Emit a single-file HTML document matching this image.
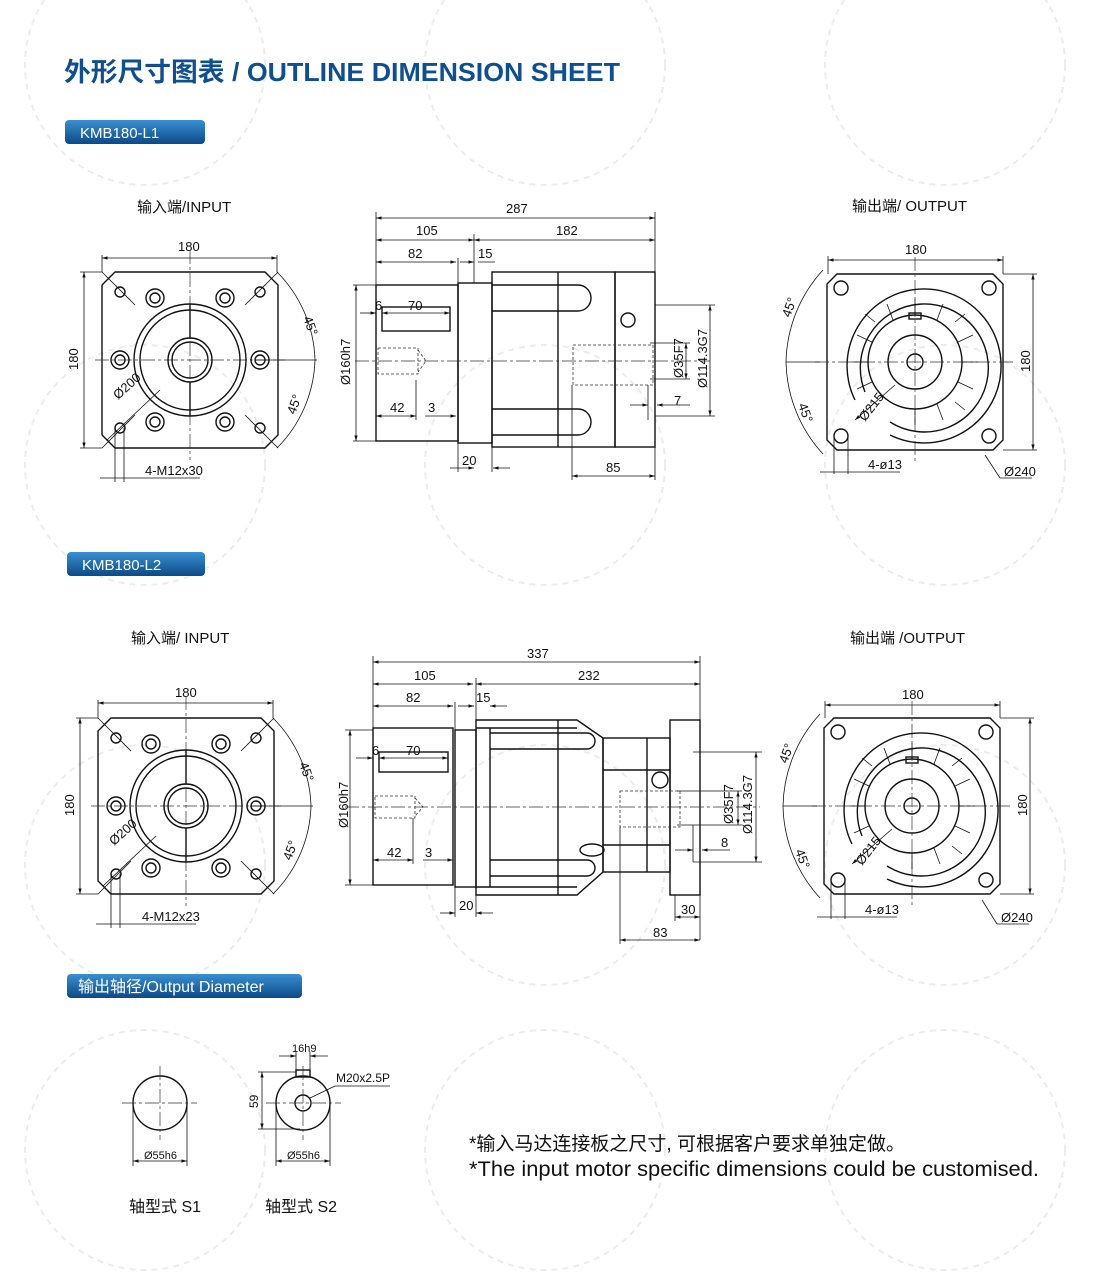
<!DOCTYPE html>
<html><head><meta charset="utf-8"><style>
html,body{margin:0;padding:0;background:#fff;width:1100px;height:1276px;overflow:hidden;}
svg{display:block}
.t{font-family:"Liberation Sans Narrow","Liberation Sans","Noto Sans CJK SC",sans-serif;font-size:13px;fill:#111}
.h{font-family:"Liberation Sans","Noto Sans CJK SC",sans-serif;font-size:15px;fill:#111}
.l{stroke:#111;stroke-width:1.4;fill:none}
.th{stroke:#111;stroke-width:0.8;fill:none}
.c{stroke:#333;stroke-width:0.7;fill:none;stroke-dasharray:14 3 3 3}
.d{stroke:#333;stroke-width:0.8;fill:none;stroke-dasharray:3 2}
.wm{stroke:#ececec;stroke-width:2;fill:none;stroke-dasharray:6 5}
</style></head><body>
<svg width="1100" height="1276" viewBox="0 0 1100 1276" xmlns="http://www.w3.org/2000/svg">
<defs>
<marker id="a" viewBox="0 0 10 10" refX="10" refY="5" markerWidth="7" markerHeight="7" orient="auto-start-reverse"><path d="M0,2 L10,5 L0,8z" fill="#111"/></marker>
<linearGradient id="g" x1="0" y1="0" x2="0" y2="1"><stop offset="0" stop-color="#3a8fd0"/><stop offset="1" stop-color="#0b4a88"/></linearGradient>
<g id="inp">
 <path class="l" d="M-75,-88 H75 L88,-75 V75 L75,88 H-75 L-88,75 V-75 Z"/>
 <line class="c" x1="-95" y1="0" x2="95" y2="0"/><line class="c" x1="0" y1="-110" x2="0" y2="100"/>
 <circle class="l" r="56"/><circle class="l" r="50"/><circle class="l" r="22"/><circle class="l" r="18"/>
 <circle class="l" cx="-70" cy="0" r="9"/><circle class="l" cx="-70" cy="0" r="5"/>
 <circle class="l" cx="70" cy="0" r="9"/><circle class="l" cx="70" cy="0" r="5"/>
 <circle class="l" cx="-35" cy="-62" r="9"/><circle class="l" cx="-35" cy="-62" r="5"/>
 <circle class="l" cx="35" cy="-62" r="9"/><circle class="l" cx="35" cy="-62" r="5"/>
 <circle class="l" cx="-35" cy="62" r="9"/><circle class="l" cx="-35" cy="62" r="5"/>
 <circle class="l" cx="35" cy="62" r="9"/><circle class="l" cx="35" cy="62" r="5"/>
 <circle class="l" cx="-70" cy="-68" r="5"/><circle class="l" cx="70" cy="-68" r="5"/><circle class="l" cx="70" cy="68" r="5"/><circle class="l" cx="-70" cy="68" r="5"/>
 <line class="th" x1="-88" y1="-88" x2="-55" y2="-55"/><line class="th" x1="88" y1="-88" x2="55" y2="-55"/><line class="th" x1="88" y1="88" x2="55" y2="55"/><line class="th" x1="-88" y1="88" x2="-55" y2="55"/>
 <line class="l" x1="0" y1="-56" x2="0" y2="-22"/><line class="l" x1="0" y1="22" x2="0" y2="56"/>
</g>
<g id="out">
 <path class="l" d="M-78,-88 H78 L88,-78 V78 L78,88 H-78 L-88,78 V-78 Z"/>
 <line class="c" x1="-100" y1="0" x2="100" y2="0"/><line class="c" x1="0" y1="-105" x2="0" y2="100"/>
 <path class="l" d="M-60,38 A77,77 0 1 1 -25,73"/>
 <path class="l" d="M-50,30 A64,64 0 1 1 -25,60"/>
 <circle class="l" r="47"/><circle class="l" r="27"/><circle class="l" r="8"/>
 <rect class="l" x="-6" y="-49" width="12" height="6"/>
 <circle class="l" cx="-74" cy="-74" r="7"/><circle class="l" cx="74" cy="-74" r="7"/><circle class="l" cx="74" cy="74" r="7"/><circle class="l" cx="-74" cy="74" r="7"/>
 <g class="th">
 <path d="M-40,-40 L-50,-48 M40,-40 L50,-48 M40,40 L50,48 M-47,0 H-63 M47,0 H63 M0,-47 V-63 M-40,40 L-48,48 M0,47 V63 M-22,-42 L-28,-58 M22,-42 L28,-58 M22,42 L28,58 M-43,-20 L-58,-27 M43,-20 L58,-27 M43,20 L58,27 M-43,20 L-58,27"/>
 </g>
</g>
</defs>

<g class="wm">
<circle cx="145" cy="65" r="120"/><circle cx="545" cy="65" r="120"/><circle cx="945" cy="65" r="120"/>
<circle cx="145" cy="465" r="120"/><circle cx="545" cy="465" r="120"/><circle cx="945" cy="465" r="120"/>
<circle cx="145" cy="865" r="120"/><circle cx="545" cy="865" r="120"/><circle cx="945" cy="865" r="120"/>
<circle cx="145" cy="1150" r="120"/><circle cx="545" cy="1150" r="120"/><circle cx="945" cy="1150" r="120"/>
</g>

<text x="64" y="81" textLength="556" lengthAdjust="spacingAndGlyphs" style="font-family:'Liberation Sans','Noto Sans CJK SC',sans-serif;font-size:26px;font-weight:bold;fill:#0e4f8f">外形尺寸图表 / OUTLINE DIMENSION SHEET</text>

<rect x="65" y="120" width="140" height="24" rx="4" fill="url(#g)"/>
<text x="80" y="138" style="font-family:'Liberation Sans',sans-serif;font-size:15px;fill:#fff">KMB180-L1</text>
<rect x="67" y="552" width="138" height="24" rx="4" fill="url(#g)"/>
<text x="82" y="570" style="font-family:'Liberation Sans',sans-serif;font-size:15px;fill:#fff">KMB180-L2</text>
<rect x="67" y="974" width="235" height="24" rx="4" fill="url(#g)"/>
<text x="78" y="992" style="font-family:'Liberation Sans','Noto Sans CJK SC',sans-serif;font-size:16px;fill:#fff">输出轴径/Output Diameter</text>

<text class="h" x="137" y="212">输入端/INPUT</text>
<text class="h" x="852" y="211">输出端/ OUTPUT</text>
<use href="#inp" x="190" y="360"/>
<line class="th" x1="102" y1="258" x2="277" y2="258" marker-start="url(#a)" marker-end="url(#a)"/><text class="t" x="178" y="251">180</text>
<line class="th" x1="102" y1="255" x2="102" y2="272"/><line class="th" x1="277" y1="255" x2="277" y2="272"/>
<line class="th" x1="84" y1="272" x2="84" y2="448" marker-start="url(#a)" marker-end="url(#a)"/><text class="t" x="78" y="370" transform="rotate(-90 78 370)">180</text>
<line class="th" x1="80" y1="272" x2="102" y2="272"/><line class="th" x1="80" y1="448" x2="102" y2="448"/>
<path class="th" d="M277,272 A130,130 0 0 1 315,360 A130,130 0 0 1 277,448"/>
<line class="th" x1="255" y1="360" x2="317" y2="360"/>
<text class="t" x="303" y="318" transform="rotate(70 303 318)">45°</text>
<text class="t" x="295" y="415" transform="rotate(-70 295 415)">45°</text>
<line class="th" x1="107" y1="440" x2="160" y2="390"/><text class="t" x="118" y="400" transform="rotate(-42 118 400)">Ø200</text>
<line class="th" x1="115" y1="428" x2="115" y2="482"/><line class="th" x1="124" y1="428" x2="124" y2="482"/>
<line class="th" x1="100" y1="478" x2="200" y2="478"/><text class="t" x="145" y="475">4-M12x30</text>

<g>
<rect class="l" x="376" y="285" width="82" height="156"/>
<rect class="l" x="458" y="283" width="34" height="160"/>
<rect class="l" x="492" y="272" width="123" height="175"/>
<line class="l" x1="558" y1="272" x2="558" y2="447"/>
<path class="l" d="M492,285 H578 A13,13 0 0 1 578,311 H492 M492,409 H578 A13,13 0 0 1 578,435 H492"/>
<rect class="l" x="615" y="272" width="40" height="175"/>
<circle class="l" cx="628" cy="320" r="7"/>
<rect class="l" x="382" y="307" width="68" height="24"/>
<rect class="d" x="378" y="348" width="40" height="26"/><path class="d" d="M418,350 L426,361 L418,372"/>
<rect class="d" x="573" y="345" width="80" height="40"/>
<line class="c" x1="355" y1="361" x2="710" y2="361"/>
</g>
<g class="th">
<line x1="376" y1="218" x2="655" y2="218" marker-start="url(#a)" marker-end="url(#a)"/>
<line x1="376" y1="240" x2="474" y2="240" marker-start="url(#a)" marker-end="url(#a)"/>
<line x1="474" y1="240" x2="655" y2="240" marker-start="url(#a)" marker-end="url(#a)"/>
<line x1="376" y1="262" x2="456" y2="262" marker-start="url(#a)" marker-end="url(#a)"/>
<line x1="460" y1="262" x2="474" y2="262" marker-end="url(#a)"/><line x1="495" y1="262" x2="478" y2="262"/>
<line x1="376" y1="212" x2="376" y2="285"/><line x1="655" y1="212" x2="655" y2="272"/><line x1="474" y1="234" x2="474" y2="283"/>
<line x1="458" y1="258" x2="458" y2="283"/>
<line x1="353" y1="285" x2="376" y2="285"/><line x1="353" y1="441" x2="376" y2="441"/>
<line x1="356" y1="285" x2="356" y2="441" marker-start="url(#a)" marker-end="url(#a)"/>
<line x1="360" y1="313" x2="376" y2="313" marker-end="url(#a)"/><line x1="382" y1="313" x2="450" y2="313" marker-start="url(#a)" marker-end="url(#a)"/>
<line x1="376" y1="416" x2="416" y2="416" marker-start="url(#a)" marker-end="url(#a)"/><line x1="416" y1="380" x2="416" y2="420"/>
<line x1="425" y1="416" x2="456" y2="416" marker-end="url(#a)"/>
<line x1="450" y1="468" x2="474" y2="468" marker-end="url(#a)"/><line x1="510" y1="468" x2="493" y2="468" marker-end="url(#a)"/>
<line x1="458" y1="441" x2="458" y2="472"/><line x1="492" y1="447" x2="492" y2="472"/>
<line x1="572" y1="476" x2="655" y2="476" marker-start="url(#a)" marker-end="url(#a)"/><line x1="572" y1="385" x2="572" y2="480"/><line x1="655" y1="447" x2="655" y2="480"/>
<line x1="650" y1="343" x2="690" y2="343"/><line x1="650" y1="379" x2="690" y2="379"/>
<line x1="686" y1="343" x2="686" y2="379" marker-start="url(#a)" marker-end="url(#a)"/>
<line x1="655" y1="305" x2="715" y2="305"/><line x1="655" y1="416" x2="715" y2="416"/>
<line x1="710" y1="305" x2="710" y2="416" marker-start="url(#a)" marker-end="url(#a)"/>
<line x1="630" y1="405" x2="648" y2="405" marker-end="url(#a)"/><line x1="690" y1="405" x2="657" y2="405" marker-end="url(#a)"/>
<line x1="648" y1="385" x2="648" y2="420"/>
</g>
<text class="t" x="506" y="213">287</text><text class="t" x="416" y="235">105</text><text class="t" x="556" y="235">182</text>
<text class="t" x="408" y="258">82</text><text class="t" x="478" y="258">15</text>
<text class="t" x="375" y="310">6</text><text class="t" x="408" y="310">70</text>
<text class="t" x="390" y="412">42</text><text class="t" x="428" y="412">3</text>
<text class="t" x="462" y="465">20</text><text class="t" x="606" y="472">85</text><text class="t" x="674" y="405">7</text>
<text class="t" x="350" y="385" transform="rotate(-90 350 385)">Ø160h7</text>
<text class="t" x="683" y="378" transform="rotate(-90 683 378)">Ø35F7</text>
<text class="t" x="707" y="388" transform="rotate(-90 707 388)">Ø114.3G7</text>

<use href="#out" x="915" y="362"/>
<g class="th">
<line x1="828" y1="260" x2="1003" y2="260" marker-start="url(#a)" marker-end="url(#a)"/><line x1="828" y1="256" x2="828" y2="274"/><line x1="1003" y1="256" x2="1003" y2="274"/>
<line x1="1033" y1="274" x2="1033" y2="450" marker-start="url(#a)" marker-end="url(#a)"/><line x1="1003" y1="274" x2="1037" y2="274"/><line x1="1003" y1="450" x2="1037" y2="450"/>
<path d="M823,270 A140,140 0 0 0 786,362 A140,140 0 0 0 823,454"/><line x1="786" y1="362" x2="820" y2="362"/>
<line x1="855" y1="420" x2="895" y2="385" marker-start="url(#a)"/>
<line x1="834" y1="435" x2="834" y2="474"/><line x1="848" y1="435" x2="848" y2="474"/><line x1="820" y1="472" x2="900" y2="472"/>
<line x1="985" y1="455" x2="1000" y2="478"/><line x1="1000" y1="478" x2="1032" y2="478"/>
</g>
<text class="t" x="905" y="254">180</text>
<text class="t" x="1030" y="372" transform="rotate(-90 1030 372)">180</text>
<text class="t" x="790" y="318" transform="rotate(-70 790 318)">45°</text>
<text class="t" x="798" y="405" transform="rotate(70 798 405)">45°</text>
<text class="t" x="865" y="422" transform="rotate(-52 865 422)">Ø215</text>
<text class="t" x="868" y="469">4-ø13</text><text class="t" x="1004" y="476">Ø240</text>

<text class="h" x="131" y="643">输入端/ INPUT</text>
<text class="h" x="850" y="643">输出端 /OUTPUT</text>
<use href="#inp" x="186" y="806"/>
<g class="th">
<line x1="98" y1="703" x2="273" y2="703" marker-start="url(#a)" marker-end="url(#a)"/><line x1="98" y1="700" x2="98" y2="718"/><line x1="273" y1="700" x2="273" y2="718"/>
<line x1="80" y1="718" x2="80" y2="894" marker-start="url(#a)" marker-end="url(#a)"/><line x1="76" y1="718" x2="98" y2="718"/><line x1="76" y1="894" x2="98" y2="894"/>
<path d="M273,718 A130,130 0 0 1 311,806 A130,130 0 0 1 273,894"/><line x1="251" y1="806" x2="313" y2="806"/>
<line x1="103" y1="886" x2="156" y2="836"/>
<line x1="111" y1="874" x2="111" y2="928"/><line x1="120" y1="874" x2="120" y2="928"/><line x1="96" y1="924" x2="196" y2="924"/>
</g>
<text class="t" x="175" y="697">180</text>
<text class="t" x="74" y="816" transform="rotate(-90 74 816)">180</text>
<text class="t" x="299" y="764" transform="rotate(70 299 764)">45°</text>
<text class="t" x="291" y="861" transform="rotate(-70 291 861)">45°</text>
<text class="t" x="114" y="846" transform="rotate(-42 114 846)">Ø200</text>
<text class="t" x="142" y="921">4-M12x23</text>

<g>
<rect class="l" x="373" y="728" width="80" height="157"/>
<rect class="l" x="455" y="730" width="21" height="157"/>
<path class="l" d="M476,720 H577 L603,738 V872 L577,895 H476 Z"/>
<path class="l" d="M476,728 H577 M476,887 H577 M490,728 V887"/>
<line class="l" x1="558" y1="720" x2="558" y2="895"/>
<path class="l" d="M490,733 H587 A8,8 0 0 1 587,749 H490 M490,860 H587 A8,8 0 0 1 587,876 H490"/>
<rect class="l" x="603" y="738" width="67" height="134"/>
<line class="l" x1="647" y1="738" x2="647" y2="872"/>
<line class="l" x1="603" y1="770" x2="670" y2="770"/><line class="l" x1="603" y1="845" x2="670" y2="845"/>
<rect class="l" x="670" y="720" width="30" height="175"/>
<circle class="l" cx="660" cy="780" r="8"/>
<ellipse class="l" cx="592" cy="850" rx="12" ry="6"/>
<rect class="l" x="379" y="752" width="69" height="20"/>
<rect class="d" x="375" y="796" width="40" height="22"/><path class="d" d="M415,798 L423,807 L415,816"/>
<rect class="d" x="620" y="791" width="60" height="36"/>
<line class="c" x1="345" y1="807" x2="760" y2="807"/>
</g>
<g class="th">
<line x1="373" y1="662" x2="700" y2="662" marker-start="url(#a)" marker-end="url(#a)"/>
<line x1="373" y1="684" x2="473" y2="684" marker-start="url(#a)" marker-end="url(#a)"/>
<line x1="476" y1="684" x2="700" y2="684" marker-start="url(#a)" marker-end="url(#a)"/>
<line x1="373" y1="706" x2="453" y2="706" marker-start="url(#a)" marker-end="url(#a)"/>
<line x1="458" y1="706" x2="474" y2="706" marker-end="url(#a)"/><line x1="507" y1="706" x2="490" y2="706" marker-end="url(#a)"/>
<line x1="373" y1="656" x2="373" y2="728"/><line x1="700" y1="656" x2="700" y2="720"/><line x1="476" y1="678" x2="476" y2="720"/><line x1="455" y1="702" x2="455" y2="730"/>
<line x1="345" y1="730" x2="373" y2="730"/><line x1="345" y1="885" x2="373" y2="885"/>
<line x1="350" y1="730" x2="350" y2="885" marker-start="url(#a)" marker-end="url(#a)"/>
<line x1="356" y1="758" x2="373" y2="758" marker-end="url(#a)"/><line x1="379" y1="758" x2="448" y2="758" marker-start="url(#a)" marker-end="url(#a)"/>
<line x1="373" y1="860" x2="413" y2="860" marker-start="url(#a)" marker-end="url(#a)"/><line x1="413" y1="818" x2="413" y2="864"/>
<line x1="423" y1="860" x2="453" y2="860" marker-end="url(#a)"/>
<line x1="440" y1="913" x2="455" y2="913" marker-end="url(#a)"/><line x1="493" y1="913" x2="476" y2="913" marker-end="url(#a)"/>
<line x1="455" y1="887" x2="455" y2="917"/><line x1="476" y1="895" x2="476" y2="917"/>
<line x1="675" y1="917" x2="700" y2="917" marker-start="url(#a)" marker-end="url(#a)"/><line x1="675" y1="895" x2="675" y2="921"/><line x1="700" y1="895" x2="700" y2="940"/>
<line x1="620" y1="940" x2="700" y2="940" marker-start="url(#a)" marker-end="url(#a)"/><line x1="620" y1="827" x2="620" y2="944"/>
<line x1="677" y1="791" x2="742" y2="791"/><line x1="677" y1="825" x2="742" y2="825"/>
<line x1="738" y1="791" x2="738" y2="825" marker-start="url(#a)" marker-end="url(#a)"/>
<line x1="693" y1="752" x2="762" y2="752"/><line x1="693" y1="862" x2="762" y2="862"/>
<line x1="756" y1="752" x2="756" y2="862" marker-start="url(#a)" marker-end="url(#a)"/>
<line x1="675" y1="850" x2="693" y2="850" marker-end="url(#a)"/><line x1="730" y1="850" x2="702" y2="850" marker-end="url(#a)"/>
<line x1="693" y1="825" x2="693" y2="862"/>
</g>
<text class="t" x="527" y="658">337</text><text class="t" x="414" y="680">105</text><text class="t" x="578" y="680">232</text>
<text class="t" x="406" y="702">82</text><text class="t" x="476" y="702">15</text>
<text class="t" x="372" y="755">6</text><text class="t" x="406" y="755">70</text>
<text class="t" x="387" y="857">42</text><text class="t" x="425" y="857">3</text>
<text class="t" x="459" y="910">20</text><text class="t" x="681" y="914">30</text><text class="t" x="653" y="937">83</text><text class="t" x="721" y="847">8</text>
<text class="t" x="348" y="828" transform="rotate(-90 348 828)">Ø160h7</text>
<text class="t" x="733" y="824" transform="rotate(-90 733 824)">Ø35F7</text>
<text class="t" x="752" y="834" transform="rotate(-90 752 834)">Ø114.3G7</text>

<use href="#out" x="912" y="806"/>
<g class="th">
<line x1="825" y1="705" x2="1000" y2="705" marker-start="url(#a)" marker-end="url(#a)"/><line x1="825" y1="701" x2="825" y2="718"/><line x1="1000" y1="701" x2="1000" y2="718"/>
<line x1="1030" y1="718" x2="1030" y2="894" marker-start="url(#a)" marker-end="url(#a)"/><line x1="1000" y1="718" x2="1034" y2="718"/><line x1="1000" y1="894" x2="1034" y2="894"/>
<path d="M820,714 A140,140 0 0 0 783,806 A140,140 0 0 0 820,898"/><line x1="783" y1="806" x2="817" y2="806"/>
<line x1="852" y1="864" x2="892" y2="829" marker-start="url(#a)"/>
<line x1="831" y1="880" x2="831" y2="919"/><line x1="845" y1="880" x2="845" y2="919"/><line x1="817" y1="917" x2="897" y2="917"/>
<line x1="982" y1="900" x2="997" y2="924"/><line x1="997" y1="924" x2="1029" y2="924"/>
</g>
<text class="t" x="902" y="699">180</text>
<text class="t" x="1027" y="816" transform="rotate(-90 1027 816)">180</text>
<text class="t" x="787" y="764" transform="rotate(-70 787 764)">45°</text>
<text class="t" x="795" y="851" transform="rotate(70 795 851)">45°</text>
<text class="t" x="862" y="866" transform="rotate(-52 862 866)">Ø215</text>
<text class="t" x="865" y="914">4-ø13</text><text class="t" x="1001" y="922">Ø240</text>

<circle class="l" cx="160" cy="1103" r="27"/>
<line class="c" x1="122" y1="1103" x2="197" y2="1103"/><line class="c" x1="160" y1="1066" x2="160" y2="1140"/>
<g class="th">
<line x1="133" y1="1103" x2="133" y2="1166"/><line x1="187" y1="1103" x2="187" y2="1166"/>
<line x1="133" y1="1161" x2="187" y2="1161" marker-start="url(#a)" marker-end="url(#a)"/>
</g>
<text class="t" x="144" y="1159" style="font-size:11px">Ø55h6</text>
<circle class="l" cx="303" cy="1103" r="27"/><circle class="l" cx="303" cy="1103" r="8"/>
<rect class="l" x="296" y="1070" width="14" height="7"/>
<line class="c" x1="266" y1="1103" x2="341" y2="1103"/><line class="c" x1="303" y1="1066" x2="303" y2="1140"/>
<g class="th">
<line x1="276" y1="1103" x2="276" y2="1166"/><line x1="330" y1="1103" x2="330" y2="1166"/>
<line x1="276" y1="1161" x2="330" y2="1161" marker-start="url(#a)" marker-end="url(#a)"/>
<line x1="296" y1="1052" x2="296" y2="1072"/><line x1="310" y1="1052" x2="310" y2="1072"/>
<line x1="279" y1="1056" x2="296" y2="1056" marker-end="url(#a)"/><line x1="328" y1="1056" x2="310" y2="1056" marker-end="url(#a)"/>
<line x1="258" y1="1072" x2="296" y2="1072"/><line x1="258" y1="1129" x2="300" y2="1129"/>
<line x1="262" y1="1072" x2="262" y2="1129" marker-start="url(#a)" marker-end="url(#a)"/>
<line x1="310" y1="1098" x2="335" y2="1086"/><line x1="335" y1="1086" x2="390" y2="1086"/>
</g>
<text class="t" x="292" y="1052" style="font-size:11px">16h9</text>
<text class="t" x="336" y="1082" style="font-size:12px">M20x2.5P</text>
<text class="t" x="258" y="1108" transform="rotate(-90 258 1108)" style="font-size:12px">59</text>
<text class="t" x="287" y="1159" style="font-size:11px">Ø55h6</text>
<text class="h" x="129" y="1212" style="font-size:16px">轴型式 S1</text>
<text class="h" x="265" y="1212" style="font-size:16px">轴型式 S2</text>
<text x="469" y="1150" style="font-family:'Liberation Sans','Noto Sans CJK SC',sans-serif;font-size:19px;fill:#111">*输入马达连接板之尺寸, 可根据客户要求单独定做。</text>
<text x="469" y="1176" style="font-family:'Liberation Sans','Noto Sans CJK SC',sans-serif;font-size:21px;fill:#111" textLength="570" lengthAdjust="spacingAndGlyphs">*The input motor specific dimensions could be customised.</text>
</svg>
</body></html>
